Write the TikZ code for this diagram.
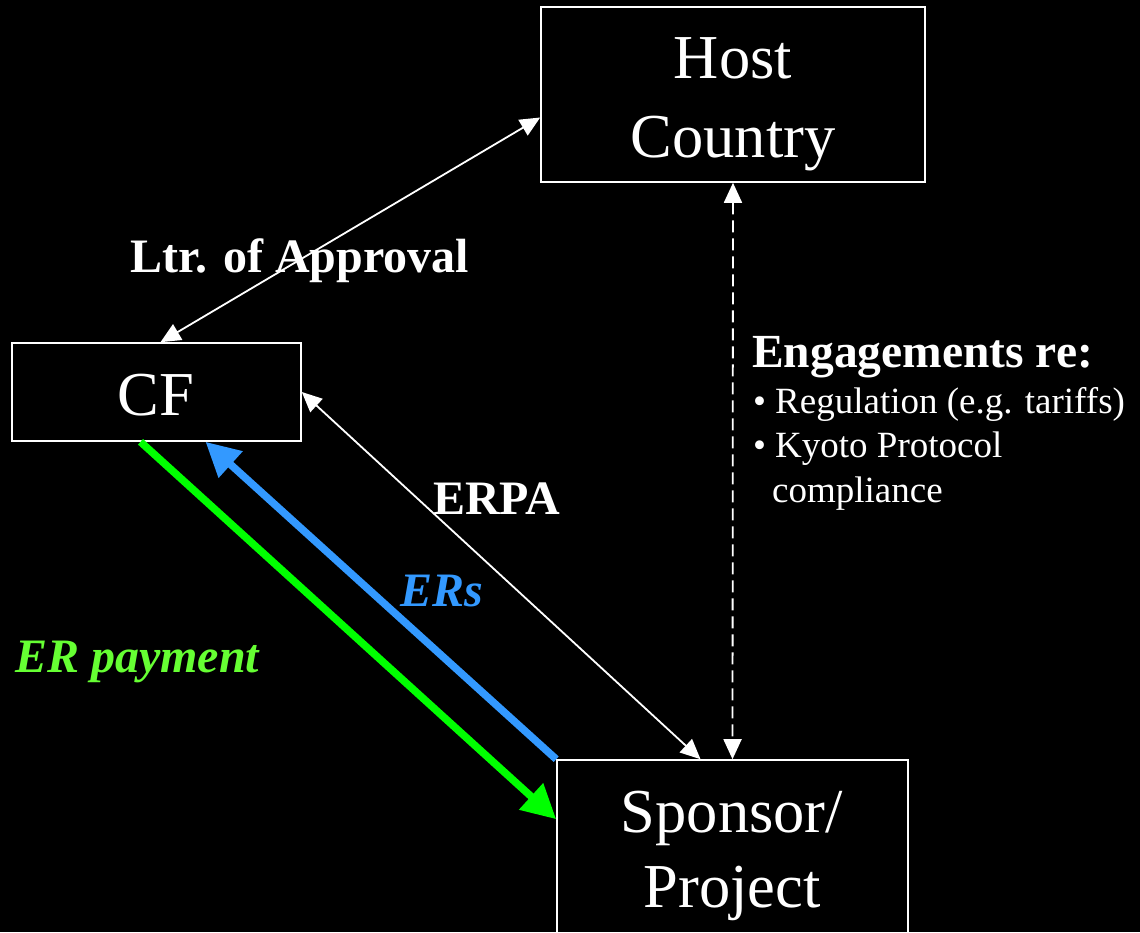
\documentclass[tikz,border=0pt]{standalone}
\usepackage{fontspec}
\setmainfont{Liberation Serif}
\usetikzlibrary{arrows.meta}
\definecolor{erblue}{HTML}{3399FF}
\definecolor{ergreen}{HTML}{00FF00}
\definecolor{paygreen}{HTML}{66FF33}

\begin{document}
\begin{tikzpicture}[x=1pt,y=-1pt,
  box/.style={draw=white,line width=1.6pt,inner sep=0pt},
  boxtext/.style={text=white,font=\fontsize{62.5}{62.5}\selectfont,anchor=base,inner sep=0pt},
  lbl/.style={text=white,font=\fontsize{48}{48}\selectfont\bfseries,anchor=base west,inner sep=0pt},
  itlbl/.style={font=\fontsize{48}{48}\selectfont\bfseries\itshape,anchor=base west,inner sep=0pt},
  note/.style={text=white,font=\fontsize{37}{37}\selectfont,anchor=base west,inner sep=0pt},
  link/.style={white,line width=1.8pt,{Triangle[length=20pt,width=18pt]}-{Triangle[length=20pt,width=18pt]}},
  dashlink/.style={link,dash pattern=on 12pt off 6pt},
  flow/.style={line width=7.5pt,-{Triangle[length=34pt,width=34pt]}}
]
\fill[black] (0,0) rectangle (1140,932);
\useasboundingbox (0,0) rectangle (1140,932);
\clip (0,0) rectangle (1140,932);

% boxes
\node[box,minimum width=384pt,minimum height=175pt] (host) at (733,94.5) {};
\node[box,minimum width=289pt,minimum height=98pt] (cf) at (156.5,392) {};
\node[box,minimum width=351pt,minimum height=190pt] (sp) at (732.5,855) {};

% box captions
\node[boxtext] (hostA) at (733,78) {Host};
\node[boxtext] (hostB) at (733,157) {Country};
\node[boxtext] (cfA) at (156,415) {CF};
\node[boxtext] (spA) at (732,832) {Sponsor/};
\node[boxtext] (spB) at (732,907) {Project};

% thin white relations
\draw[link] ([xshift=4pt]cf.north) -- ([yshift=-23pt]host.west);
\draw[link] (cf.east) -- ([xshift=-32pt]sp.north);
\draw[dashlink] (host.south) -- (sp.north);

% flows of reductions and payments
\draw[flow,erblue] (sp.north west) -- ([xshift=49pt]cf.south);
\draw[flow,ergreen] ([xshift=-16pt]cf.south) -- ([yshift=-60pt]sp.north west);

% labels
\node[lbl] (ltr) at (130,272) {Ltr. of Approval};
\node[lbl] (erpa) at (433,514) {ERPA};
\node[itlbl,text=erblue] (ers) at (400,606) {ERs};
\node[itlbl,text=paygreen] (pay) at (15,672) {ER payment};

\node[lbl,font=\fontsize{47.5}{47.5}\selectfont\bfseries] (eng) at (752,367) {Engagements re:};
\node[note] (b1) at (753,413) {\textbullet};
\node[note] (n1) at (775,413) {Regulation (e.g. tariffs)};
\node[note] (b2) at (753,457) {\textbullet};
\node[note] (n2) at (775,457) {Kyoto Protocol};
\node[note] (n3) at (772,502) {compliance};
\end{tikzpicture}
\end{document}
